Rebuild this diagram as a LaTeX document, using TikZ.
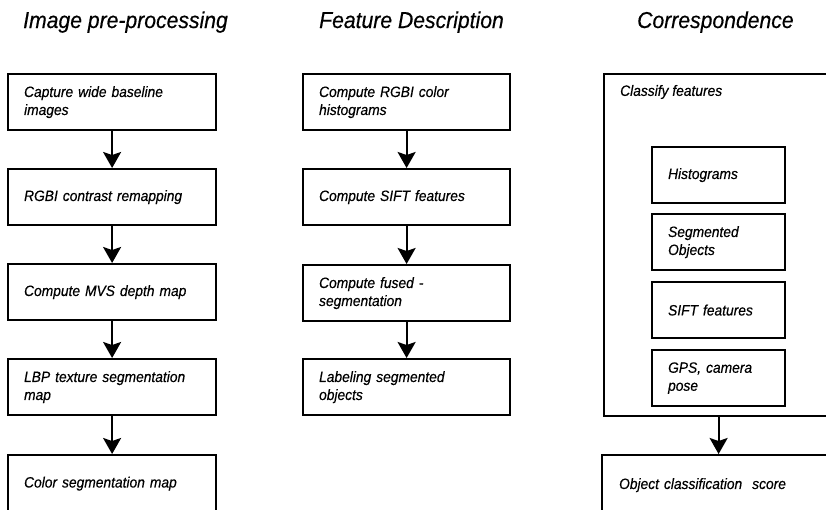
\documentclass[tikz,border=0pt]{standalone}
\usepackage{fontspec}
\setmainfont{Liberation Sans}[FakeStretch=0.92, ItalicFeatures={FakeBold=0.4}]
\usetikzlibrary{arrows.meta}
\begin{document}
\begin{tikzpicture}[x=1pt,y=-1pt,
  box/.style={draw, line width=2.2pt, inner xsep=16pt, inner ysep=0pt, align=left,
    anchor=north west, minimum height=56pt, font=\fontsize{15}{18}\selectfont\itshape},
  ttl/.style={anchor=base west, inner sep=0pt, font=\fontsize{23}{27}\selectfont\itshape},
  arr/.style={line width=2pt, -{Stealth[length=16pt,width=18pt,inset=3pt]}}]
\useasboundingbox (0,0) rectangle (826,509);
\clip (0,0) rectangle (826,509);
% titles
\node[ttl] (t1) at (23,28) {Image pre-processing};
\node[ttl] (t2) at (319,28) {Feature Description};
\node[ttl] (t3) at (637,28) {Correspondence};
% left column
\node[box, text width=176pt] (L1) at (7,73) {Capture wide baseline\\images};
\node[box, text width=176pt] (L2) at (7,168) {RGBI contrast remapping};
\node[box, text width=176pt] (L3) at (7,263) {Compute MVS depth map};
\node[box, text width=176pt] (L4) at (7,358) {LBP texture segmentation\\map};
\node[box, text width=176pt, minimum height=57pt] (L5) at (7,454) {Color segmentation map};
\draw[arr] (L1.south) -- (L2.north);
\draw[arr] (L2.south) -- (L3.north);
\draw[arr] (L3.south) -- (L4.north);
\draw[arr] (L4.south) -- (L5.north);
% middle column
\node[box, text width=175pt] (M1) at (302,73) {Compute RGBI color\\histograms};
\node[box, text width=175pt] (M2) at (302,168) {Compute SIFT features};
\node[box, text width=175pt] (M3) at (302,264) {Compute fused -\\segmentation};
\node[box, text width=175pt] (M4) at (302,358) {Labeling segmented\\objects};
\draw[arr] (M1.south) -- (M2.north);
\draw[arr] (M2.south) -- (M3.north);
\draw[arr] (M3.south) -- (M4.north);
% right column
\node[draw, line width=2.2pt, anchor=north west, inner sep=0pt,
  minimum width=229pt, minimum height=342pt] (C) at (603,73) {};
\node[anchor=west, inner sep=0pt, font=\fontsize{15}{18}\selectfont\itshape] (Ct) at (620,92) {Classify features};
\node[box, text width=101pt] (H) at (651,146) {Histograms};
\node[box, text width=101pt] (S) at (651,213) {Segmented\\Objects};
\node[box, text width=101pt] (F) at (651,281) {SIFT features};
\node[box, text width=101pt] (G) at (651,349) {GPS, camera\\pose};
\node[box, inner xsep=17pt, text width=199pt, minimum height=60pt] (O) at (601,454) {Object classification~~score};
\draw[arr] (C.south) -- (O.north);
\end{tikzpicture}
\end{document}
